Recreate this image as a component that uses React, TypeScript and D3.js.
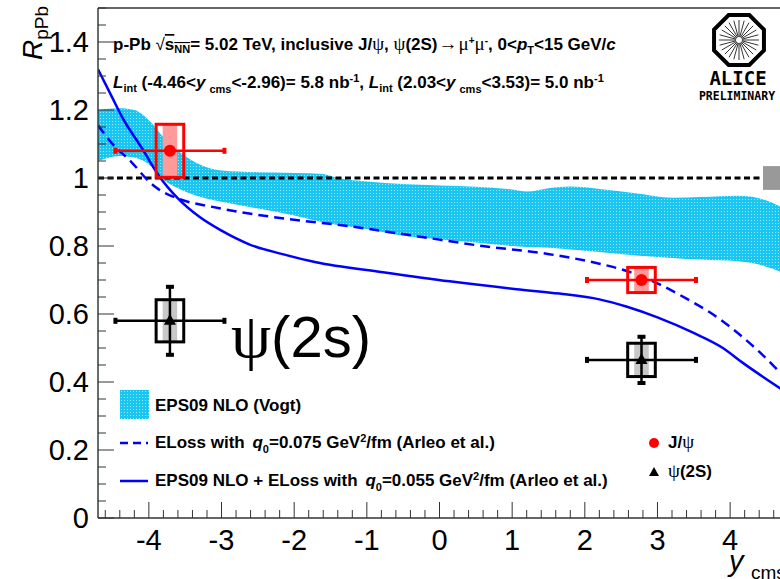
import React from 'react';
import * as d3 from 'd3';

const W = 780;
const H = 579;

// axis ticks
const yTickValues = [0, 0.2, 0.4, 0.6, 0.8, 1.0, 1.2, 1.4];
const yTickLabels = ['0', '0.2', '0.4', '0.6', '0.8', '1', '1.2', '1.4'];
const xTickValues = [-4, -3, -2, -1, 0, 1, 2, 3, 4];
const xTickLabels = ['-4', '-3', '-2', '-1', '0', '1', '2', '3', '4'];

// EPS09 NLO (Vogt) band
const bandX = [-4.7, -4.4, -4.2, -4.0, -3.8, -3.6, -3.3, -3.0, -2.5, -2.0, -1.6, -1.4, -1.0, -0.5, 0.0, 0.5, 1.0, 1.2, 1.5, 1.8, 2.2, 2.7, 3.2, 3.6, 4.1, 4.3, 4.7];
const bandLow = [1.05, 1.065, 1.06, 1.04, 0.995, 0.97, 0.945, 0.93, 0.91, 0.89, 0.87, 0.862, 0.85, 0.83, 0.82, 0.81, 0.8, 0.797, 0.795, 0.79, 0.782, 0.772, 0.765, 0.76, 0.755, 0.75, 0.724];
const bandHigh = [1.2, 1.205, 1.2, 1.17, 1.12, 1.08, 1.04, 1.022, 1.017, 1.015, 1.012, 1.0, 0.99, 0.982, 0.978, 0.974, 0.966, 0.96, 0.97, 0.975, 0.968, 0.955, 0.942, 0.944, 0.948, 0.945, 0.915];

// ELoss q0 = 0.075
const elossX = [-4.7, -4.5, -4.24, -4.0, -3.9, -3.58, -3.17, -2.75, -2.07, -1.24, -0.32, 0.59, 1.51, 2.2, 2.6, 3.03, 3.4, 3.72, 4.1, 4.41, 4.7];
const elossY = [1.155, 1.1, 1.047, 0.99, 0.972, 0.938, 0.917, 0.9, 0.879, 0.858, 0.829, 0.8, 0.776, 0.748, 0.725, 0.687, 0.645, 0.605, 0.545, 0.487, 0.425];

// EPS09 NLO + ELoss q0 = 0.055
const combX = [-4.7, -4.5, -4.37, -4.09, -3.86, -3.6, -3.3, -3.0, -2.62, -2.16, -1.7, -0.78, 0.14, 1.06, 1.65, 2.2, 2.57, 3.0, 3.49, 3.9, 4.17, 4.7];
const combY = [1.32, 1.235, 1.18, 1.086, 1.006, 0.94, 0.885, 0.845, 0.805, 0.776, 0.752, 0.723, 0.696, 0.673, 0.66, 0.643, 0.622, 0.59, 0.545, 0.5, 0.457, 0.38];

// data points
const jpsiX = [-3.71, 2.78];
const jpsiY = [1.08, 0.7];
const jpsiXlo = [-4.46, 2.03];
const jpsiXhi = [-2.96, 3.53];
const jpsiStat = [0.015, 0.012];
const jpsiSyst = [0.078, 0.037];

const psiX = [-3.71, 2.78];
const psiY = [0.58, 0.465];
const psiXlo = [-4.46, 2.03];
const psiXhi = [-2.96, 3.53];
const psiStat = [0.1, 0.068];
const psiSyst = [0.062, 0.049];

const globalSyst = 0.035;

const SANS = 'Liberation Sans, Arial, Helvetica, sans-serif';
const SERIF = 'Liberation Serif, DejaVu Serif, serif';

export default function App() {
  const x = d3.scaleLinear().domain([-4.7, 4.7]).range([98, 781]);
  const y = d3.scaleLinear().domain([0, 1.5]).range([518, 8]);

  const band = d3.area<number>()
    .x((_, i) => x(bandX[i]))
    .y0((_, i) => y(bandLow[i]))
    .y1((_, i) => y(bandHigh[i]))
    .curve(d3.curveMonotoneX)(bandX);

  const elossPath = d3.line<number>()
    .x((_, i) => x(elossX[i]))
    .y((_, i) => y(elossY[i]))
    .curve(d3.curveMonotoneX)(elossX);

  const combPath = d3.line<number>()
    .x((_, i) => x(combX[i]))
    .y((_, i) => y(combY[i]))
    .curve(d3.curveMonotoneX)(combX);

  const xMinor = d3.range(-4.6, 4.71, 0.2).map(v => Math.round(v * 10) / 10);
  const yMinor = d3.range(0, 1.501, 0.05).map(v => Math.round(v * 100) / 100);

  const boxHalf = 0.19;
  const fillHalf = 0.1;

  const octagon = d3.range(8).map(k => {
    const a = Math.PI / 8 + k * Math.PI / 4;
    return [739 + 27 * Math.cos(a), 40 + 27 * Math.sin(a)];
  });
  const rays = d3.range(24).map(k => k * Math.PI / 12);

  const drawPoint = (
    cx: number, cy: number, xlo: number, xhi: number, stat: number, syst: number,
    color: string, fill: string, marker: 'circle' | 'triangle', key: string
  ) => {
    const px = x(cx);
    const py = y(cy);
    const bw = x(cx + boxHalf) - px;
    const fw = x(cx + fillHalf) - px;
    return (
      <g key={key}>
        <rect x={px - fw} y={y(cy + syst)} width={2 * fw} height={y(cy - syst) - y(cy + syst)} fill={fill} />
        <line x1={x(xlo)} x2={x(xhi)} y1={py} y2={py} stroke={color} strokeWidth={2.5} />
        <rect x={x(xlo) - 2} y={py - 3} width={4} height={6} fill={color} />
        <rect x={x(xhi) - 2} y={py - 3} width={4} height={6} fill={color} />
        <line x1={px} x2={px} y1={y(cy + stat)} y2={y(cy - stat)} stroke={color} strokeWidth={2.5} />
        {stat > 0.03 && (
          <>
            <rect x={px - 4} y={y(cy + stat) - 2} width={8} height={4} fill={color} />
            <rect x={px - 4} y={y(cy - stat) - 2} width={8} height={4} fill={color} />
          </>
        )}
        <rect x={px - bw} y={y(cy + syst)} width={2 * bw} height={y(cy - syst) - y(cy + syst)} fill="none" stroke={color} strokeWidth={3} />
        {marker === 'circle' ? (
          <circle cx={px} cy={py} r={6} fill={color} />
        ) : (
          <path d={`M${px},${py - 7} L${px + 6},${py + 4} L${px - 6},${py + 4} Z`} fill={color} />
        )}
      </g>
    );
  };

  return (
    <svg width={W} height={H} style={{ position: 'fixed', left: 0, top: 0, background: '#fff' }} fontFamily={SANS}>
      <defs>
        <pattern id="dots" width={3} height={3} patternUnits="userSpaceOnUse">
          <rect width={3} height={3} fill="#19c5f1" />
          <rect x={1} y={1} width={1} height={1} fill="#9fe6f9" />
        </pattern>
        <clipPath id="plotclip">
          <rect x={98} y={8} width={683} height={510} />
        </clipPath>
      </defs>
      <rect width={W} height={H} fill="#fff" />

      <g clipPath="url(#plotclip)">
        <path d={band || ''} fill="url(#dots)" />
        {/* reference line at 1 */}
        <line x1={98} x2={763} y1={y(1)} y2={y(1)} stroke="#000" strokeWidth={3} strokeDasharray="6,3.5" />
        <rect x={763} y={y(1 + globalSyst)} width={20} height={y(1 - globalSyst) - y(1 + globalSyst)} fill="#999" />
        <path d={elossPath || ''} fill="none" stroke="#0000ff" strokeWidth={2.5} strokeDasharray="10,6" />
        <path d={combPath || ''} fill="none" stroke="#0000ff" strokeWidth={2.5} />
      </g>

      {jpsiX.map((v, i) => drawPoint(v, jpsiY[i], jpsiXlo[i], jpsiXhi[i], jpsiStat[i], jpsiSyst[i], '#ff0000', '#ff9a9a', 'circle', 'j' + i))}
      {psiX.map((v, i) => drawPoint(v, psiY[i], psiXlo[i], psiXhi[i], psiStat[i], psiSyst[i], '#000000', '#c8c8c8', 'triangle', 'p' + i))}

      {/* frame */}
      <line x1={98} x2={98} y1={8} y2={518} stroke="#2f3f3f" strokeWidth={1.5} />
      <line x1={98} x2={781} y1={518} y2={518} stroke="#333" strokeWidth={1.5} />
      <line x1={98} x2={781} y1={8} y2={8} stroke="#333" strokeWidth={1.5} />

      {/* y ticks */}
      {yMinor.map(v => {
        const major = Math.abs(v * 5 - Math.round(v * 5)) < 1e-6;
        return <line key={'ym' + v} x1={98} x2={98 + (major ? 16 : 8)} y1={y(v)} y2={y(v)} stroke="#333" strokeWidth={1} />;
      })}
      {yTickValues.map((v, i) => (
        <text key={'yl' + v} x={89} y={y(v) + 10} fontSize={29} textAnchor="end" fill="#000">{yTickLabels[i]}</text>
      ))}

      {/* x ticks */}
      {xMinor.map(v => {
        const major = Math.abs(v - Math.round(v)) < 1e-6;
        return <line key={'xm' + v} x1={x(v)} x2={x(v)} y1={518} y2={518 - (major ? 16 : 8)} stroke="#333" strokeWidth={1} />;
      })}
      {xTickValues.map((v, i) => (
        <text key={'xl' + v} x={x(v)} y={550} fontSize={29} textAnchor="middle" fill="#000">{xTickLabels[i]}</text>
      ))}

      {/* axis titles */}
      <text transform="translate(42,6) rotate(-90)" textAnchor="end" fontSize={28} fill="#000">
        <tspan fontStyle="italic">R</tspan>
        <tspan fontSize={19} dy={6}>pPb</tspan>
      </text>
      <text x={729} y={571} fontSize={29} fontStyle="italic" fill="#000">y</text>
      <text x={751} y={579} fontSize={19} fill="#000">cms</text>

      {/* header */}
      <text x={113} y={50} fontSize={17} fontWeight="bold" fill="#000">
        <tspan>p-Pb </tspan>
        <tspan fontWeight="normal">√</tspan>
        <tspan style={{ textDecoration: 'overline' }}>s</tspan>
        <tspan fontSize={11} dy={3} style={{ textDecoration: 'overline' }}>NN</tspan>
        <tspan dy={-3}>= 5.02 TeV, inclusive J/</tspan>
        <tspan fontFamily={SERIF} fontWeight="normal" fontSize={19}>ψ</tspan>
        <tspan>,  </tspan>
        <tspan fontFamily={SERIF} fontWeight="normal" fontSize={19}>ψ</tspan>
        <tspan>(2S)</tspan>
        <tspan fontFamily={SERIF} fontWeight="normal" fontSize={19} dx={1}>→</tspan>
        <tspan fontFamily={SERIF} fontWeight="normal" fontSize={19} dx={1}>μ</tspan>
        <tspan fontSize={10} dy={-6}>+</tspan>
        <tspan fontFamily={SERIF} fontWeight="normal" fontSize={19} dy={6}>μ</tspan>
        <tspan fontSize={10} dy={-6}>-</tspan>
        <tspan dy={6}>, 0&lt;</tspan>
        <tspan fontStyle="italic">p</tspan>
        <tspan fontSize={11} dy={4}>T</tspan>
        <tspan dy={-4}>&lt;15 GeV/</tspan>
        <tspan fontStyle="italic">c</tspan>
      </text>
      <text x={113} y={88} fontSize={17} fontWeight="bold" fill="#000">
        <tspan fontStyle="italic">L</tspan>
        <tspan fontSize={11} dy={4}>int</tspan>
        <tspan dy={-4}> (-4.46&lt;</tspan>
        <tspan fontStyle="italic">y</tspan>
        <tspan fontSize={11} dy={5} dx={4}>cms</tspan>
        <tspan dy={-5}>&lt;-2.96)= 5.8 nb</tspan>
        <tspan fontSize={11} dy={-6}>-1</tspan>
        <tspan dy={6}>, </tspan>
        <tspan fontStyle="italic">L</tspan>
        <tspan fontSize={11} dy={4}>int</tspan>
        <tspan dy={-4}> (2.03&lt;</tspan>
        <tspan fontStyle="italic">y</tspan>
        <tspan fontSize={11} dy={5} dx={4}>cms</tspan>
        <tspan dy={-5}>&lt;3.53)= 5.0 nb</tspan>
        <tspan fontSize={11} dy={-6}>-1</tspan>
      </text>

      {/* ALICE logo */}
      <g>
        <polygon points={octagon.map(p => p.join(',')).join(' ')} fill="none" stroke="#000" strokeWidth={4} />
        {rays.map((a, k) => (
          <line key={'r' + k} x1={739 + 3 * Math.cos(a)} y1={40 + 3 * Math.sin(a)} x2={739 + 20 * Math.cos(a)} y2={40 + 20 * Math.sin(a)} stroke="#000" strokeWidth={0.8} />
        ))}
        <text x={738} y={85} fontSize={19} fontWeight="bold" textAnchor="middle" fontFamily="DejaVu Sans Mono, monospace" fill="#000">ALICE</text>
        <text x={737} y={100} fontSize={11.5} fontWeight="bold" textAnchor="middle" fontFamily="DejaVu Sans Mono, monospace" fill="#000">PRELIMINARY</text>
      </g>

      {/* legend left */}
      <rect x={120} y={390} width={29} height={29} fill="url(#dots)" />
      <text x={155} y={411} fontSize={17} fontWeight="bold" fill="#000">EPS09 NLO (Vogt)</text>
      <line x1={120} x2={148} y1={443} y2={443} stroke="#0000ff" strokeWidth={2.5} strokeDasharray="8,5" />
      <text x={155} y={448} fontSize={17} fontWeight="bold" fill="#000">
        <tspan>ELoss with </tspan>
        <tspan fontStyle="italic" dx={3}>q</tspan>
        <tspan fontSize={11} dy={5}>0</tspan>
        <tspan dy={-5}>=0.075 GeV</tspan>
        <tspan fontSize={11} dy={-6}>2</tspan>
        <tspan dy={6}>/fm (Arleo et al.)</tspan>
      </text>
      <line x1={120} x2={148} y1={481} y2={481} stroke="#0000ff" strokeWidth={2.5} />
      <text x={155} y={486} fontSize={17} fontWeight="bold" fill="#000">
        <tspan>EPS09 NLO + ELoss with </tspan>
        <tspan fontStyle="italic" dx={3}>q</tspan>
        <tspan fontSize={11} dy={5}>0</tspan>
        <tspan dy={-5}>=0.055 GeV</tspan>
        <tspan fontSize={11} dy={-6}>2</tspan>
        <tspan dy={6}>/fm (Arleo et al.)</tspan>
      </text>

      {/* legend right */}
      <circle cx={654} cy={443} r={5} fill="#ff0000" />
      <text x={668} y={448} fontSize={17} fontWeight="bold" fill="#000">
        <tspan>J/</tspan>
        <tspan fontFamily={SERIF} fontWeight="normal" fontSize={19}>ψ</tspan>
      </text>
      <path d="M654,467 L659,476 L649,476 Z" fill="#000" />
      <text x={668} y={477} fontSize={17} fontWeight="bold" fill="#000">
        <tspan fontFamily={SERIF} fontWeight="normal" fontSize={19}>ψ</tspan>
        <tspan>(2S)</tspan>
      </text>

      {/* big annotation */}
      <text x={231} y={357} fontSize={58} fill="#000">
        <tspan fontFamily={SERIF} fontSize={64}>ψ</tspan>
        <tspan>(2s)</tspan>
      </text>
    </svg>
  );
}
